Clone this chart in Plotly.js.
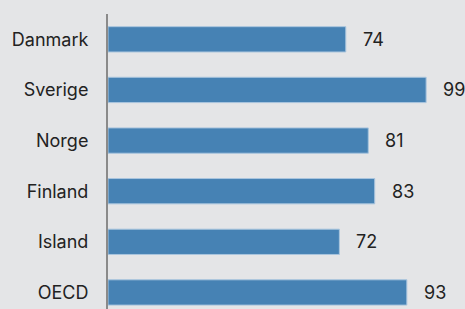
<!DOCTYPE html>
<html><head><meta charset="utf-8">
<script src="https://cdn.plot.ly/plotly-3.0.1.min.js"></script>
<style>html,body{margin:0;padding:0;background:#e4e5e7;}#c{width:465px;height:309px;}</style>
</head><body><div id="c"></div>
<script>
const categories = ["Danmark", "Sverige", "Norge", "Finland", "Island", "OECD"];
const values = [74, 99, 81, 83, 72, 93];
const valueLabels = ["74", "99", "81", "83", "72", "93"];

const font = "Inter, 'Noto Sans', sans-serif";
const trace = {
  type: "bar", orientation: "h",
  x: values, y: categories,
  marker: {color: "#4682b4", line: {color: "#a9c5de", width: 1}},
  width: 0.5,
  hoverinfo: "none"
};
const annotations = values.map((v, i) => ({
  x: v, y: categories[i], xref: "x", yref: "y",
  text: valueLabels[i], showarrow: false, xanchor: "left", xshift: 15,
  font: {family: font, size: 18, color: "#222222"}
}));
const layout = {
  width: 465, height: 309,
  margin: {l: 108, r: 0, t: 14, b: 0, pad: 0},
  paper_bgcolor: "#e4e5e7", plot_bgcolor: "#e4e5e7",
  showlegend: false,
  xaxis: {range: [0, 111.1], visible: false, fixedrange: true},
  yaxis: {
    type: "category", range: [5.327, -0.5],
    showline: true, linecolor: "#8a8a8a", linewidth: 2,
    showgrid: false, zeroline: false,
    ticks: "outside", ticklen: 14, tickcolor: "rgba(0,0,0,0)",
    tickfont: {family: font, size: 18, color: "#222222"}
  },
  annotations: annotations
};
Plotly.newPlot("c", [trace], layout, {staticPlot: true, displayModeBar: false});
</script></body></html>
